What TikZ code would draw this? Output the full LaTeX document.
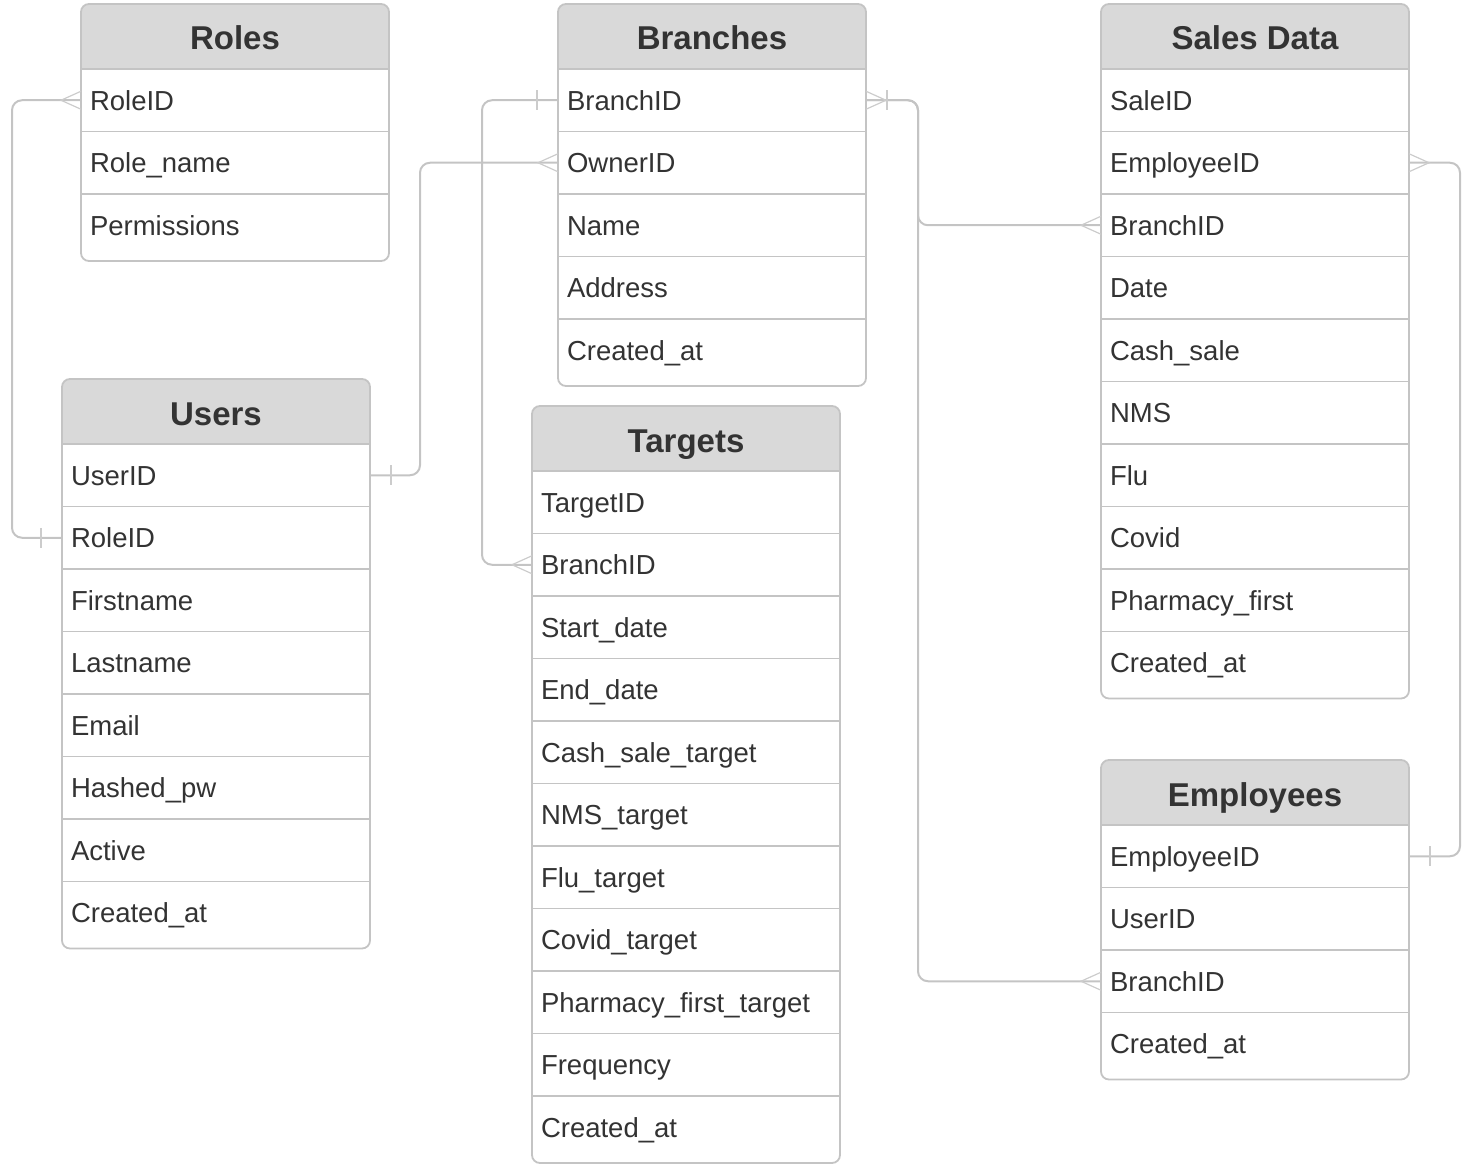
\documentclass[tikz,border=0pt]{standalone}
\usepackage{fontspec}
\setmainfont{Liberation Sans}
\definecolor{lc}{HTML}{C4C4C4}
\definecolor{mc}{HTML}{CCCCCC}
\definecolor{hf}{HTML}{D9D9D9}
\definecolor{tc}{HTML}{333333}
\tikzset{
  rowtext/.style={anchor=west, inner xsep=9pt, inner ysep=0pt, outer sep=0pt,
    text width=290pt, align=left, text height=26pt, text depth=6pt,
    font=\fontsize{27.5}{30}\selectfont, text=tc},
  headtext/.style={inner sep=0pt, text height=30pt, text depth=6pt,
    font=\fontsize{33}{36}\selectfont\bfseries, text=tc},
  boxline/.style={draw=lc, line width=1.8pt},
  conn/.style={draw=lc, line width=2pt, rounded corners=10pt},
  markline/.style={draw=mc, line width=1.2pt},
  crowL/.pic={\draw[markline] (0,-9) -- (-20,0) -- (0,9);},
  crowR/.pic={\draw[markline] (0,-9) -- (20,0) -- (0,9);},
  barL/.pic={\draw[markline] (-21,-10) -- (-21,10);},
  barR/.pic={\draw[markline] (21,-10) -- (21,10);},
}
\newcommand{\ertable}[6]{%
  \pgfmathsetmacro{\yb}{#3+65+62.5*(#5-1)+67}%
  \pgfmathtruncatemacro{\nm}{#5-1}%
  \fill[hf, rounded corners=8pt] (#2,#3) rectangle (#2+308,#3+65);
  \fill[hf] (#2,#3+30) rectangle (#2+308,#3+65);
  \node[headtext] (#1T) at (#2+154,#3+34) {#4};
  \foreach \t [count=\i] in {#6} {
    \node[rowtext] (#1\i) at (#2, #3+65+62.5*\i-31.25) {\t};
  }
  \draw[boxline] (#2,#3+65) -- (#2+308,#3+65);
  \foreach \k in {1,...,\nm} {
    \draw[boxline] (#2,#3+65+62.5*\k) -- (#2+308,#3+65+62.5*\k);
  }
  \draw[boxline, rounded corners=8pt] (#2,#3) rectangle (#2+308,\yb);
}
\begin{document}
\begin{tikzpicture}[x=1pt,y=-1pt]
\useasboundingbox (0,0) rectangle (1475,1169);
\ertable{roles}{81}{4}{Roles}{3}{RoleID,Role\_name,Permissions}
\ertable{branches}{558}{4}{Branches}{5}{BranchID,OwnerID,Name,Address,Created\_at}
\ertable{sales}{1101}{4}{Sales Data}{10}{SaleID,EmployeeID,BranchID,Date,Cash\_sale,NMS,Flu,Covid,Pharmacy\_first,Created\_at}
\ertable{users}{62}{379}{Users}{8}{UserID,RoleID,Firstname,Lastname,Email,Hashed\_pw,Active,Created\_at}
\ertable{targets}{532}{406}{Targets}{11}{TargetID,BranchID,Start\_date,End\_date,Cash\_sale\_target,NMS\_target,Flu\_target,Covid\_target,Pharmacy\_first\_target,Frequency,Created\_at}
\ertable{emp}{1101}{760}{Employees}{4}{EmployeeID,UserID,BranchID,Created\_at}

% connectors
\draw[conn] (users2.west) -- ++(-50,0) |- (roles1.west);
\pic at (roles1.west) {crowL};
\pic at (users2.west) {barL};

\draw[conn] (users1.east) -- ++(50,0) |- (branches2.west);
\pic at (users1.east) {barR};
\pic at (branches2.west) {crowL};

\draw[conn] (branches1.west) -- ++(-76,0) |- (targets2.west);
\pic at (branches1.west) {barL};
\pic at (targets2.west) {crowL};

\draw[conn] (branches1.east) -- ++(52,0) |- (sales3.west);
\draw[conn] (branches1.east) -- ++(52,0) |- (emp3.west);
\pic at (branches1.east) {crowR};
\pic at (branches1.east) {barR};
\pic at (sales3.west) {crowL};
\pic at (emp3.west) {crowL};

\draw[conn] (sales2.east) -- ++(51,0) |- (emp1.east);
\pic at (sales2.east) {crowR};
\pic at (emp1.east) {barR};
\end{tikzpicture}
\end{document}
